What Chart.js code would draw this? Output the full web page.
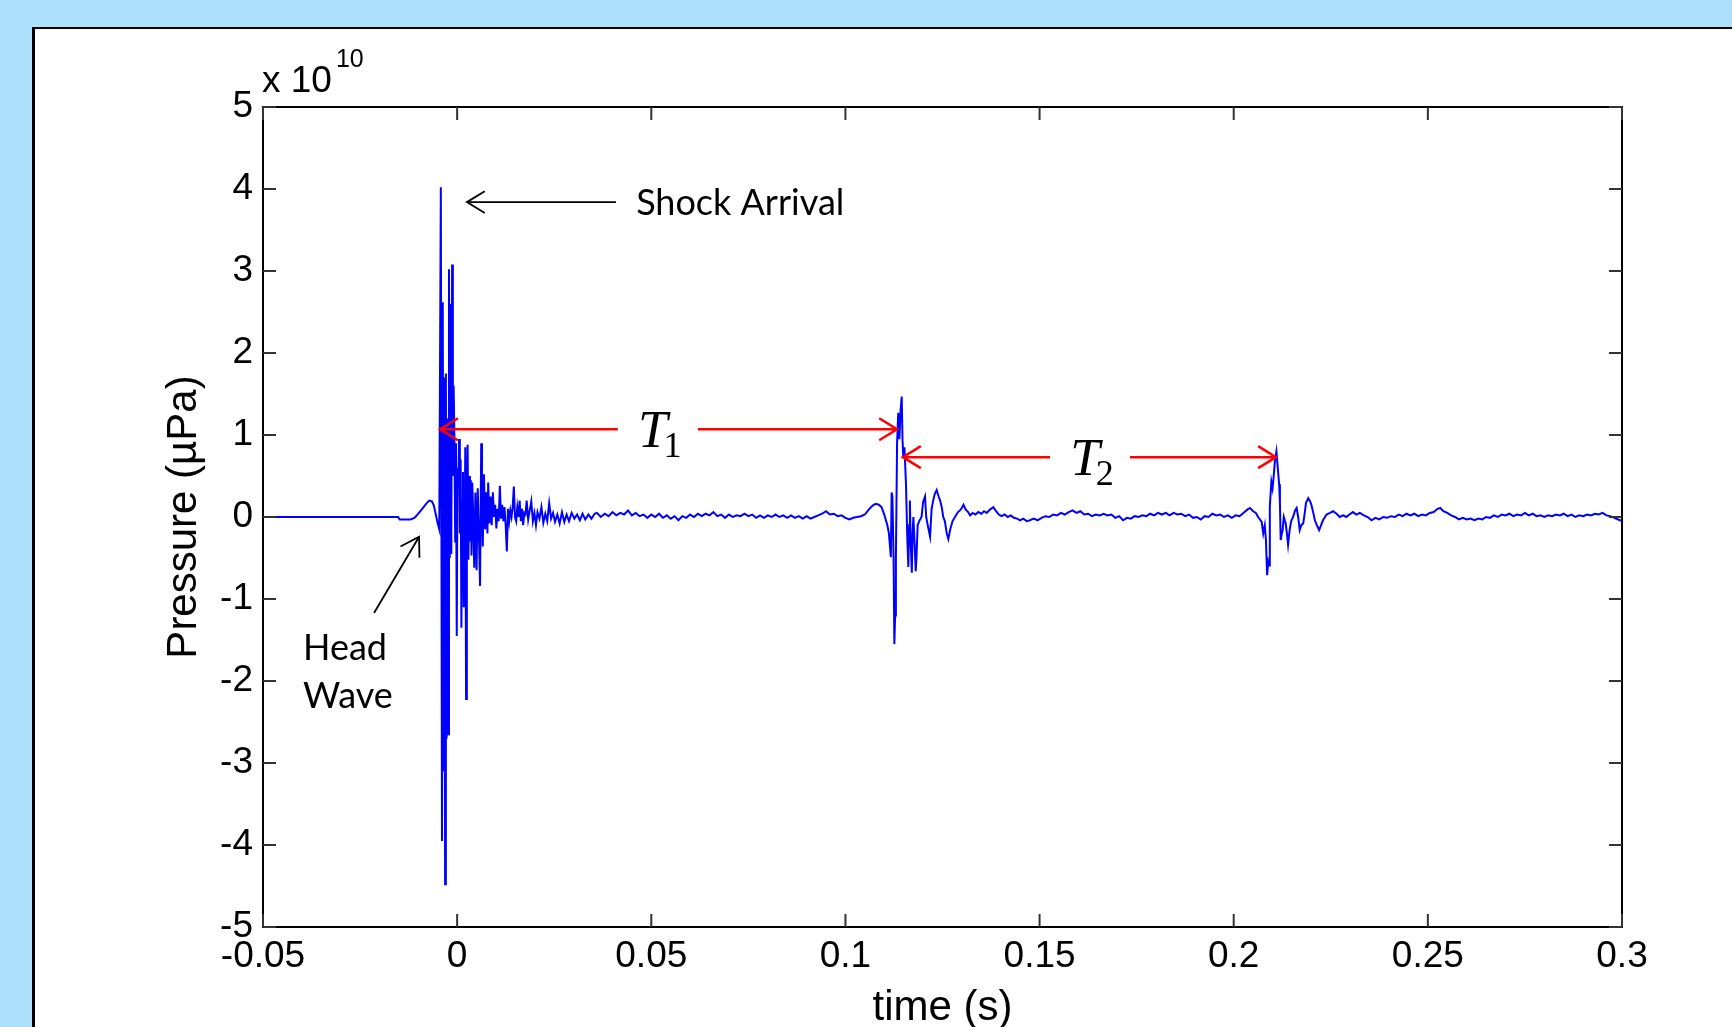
<!DOCTYPE html>
<html>
<head>
<meta charset="utf-8">
<title>Pressure trace</title>
<script src="https://cdn.jsdelivr.net/npm/chart.js@4.4.0/dist/chart.umd.min.js"></script>
<style>
  html, body { margin: 0; padding: 0; background: #ade0fb; overflow: hidden; }
  #panel { position: absolute; left: 32px; top: 27px; width: 1800px; height: 1100px;
           background: #fff; border-left: 3px solid #000; border-top: 2px solid #000; }
  #wrap { position: absolute; left: 0; top: 0; width: 1732px; height: 1027px; }
</style>
</head>
<body>
<div id="panel"></div>
<div id="wrap"><canvas id="trace" width="1732" height="1027"></canvas></div>
<script>
// axis ticks
const xTicks = [-0.05, 0, 0.05, 0.1, 0.15, 0.2, 0.25, 0.3];
const xTickLabels = ['-0.05', '0', '0.05', '0.1', '0.15', '0.2', '0.25', '0.3'];
const yTicks = [-5, -4, -3, -2, -1, 0, 1, 2, 3, 4, 5];
const yTickLabels = ['-5', '-4', '-3', '-2', '-1', '0', '1', '2', '3', '4', '5'];

// pressure trace, [time (s), pressure (x 1e10 µPa)]
const headWave = [
  [-0.05, 0], [-0.0152, 0], [-0.0148, -0.03], [-0.0120, -0.03], [-0.0110, -0.01],
  [-0.0100, 0.04], [-0.0090, 0.10], [-0.0080, 0.16], [-0.0072, 0.20], [-0.0065, 0.19],
  [-0.0060, 0.14], [-0.0055, 0.03], [-0.0050, -0.08], [-0.0046, -0.15]
];

const shockBurst = [
  [-0.0042, 4.02], [-0.0039, -3.95], [-0.0037, 2.62], [-0.0035, -3.1], [-0.0033, 1.7],
  [-0.0031, -4.48], [-0.0029, 1.75], [-0.0027, -2.7], [-0.0025, 1.2], [-0.0023, -2.65],
  [-0.0021, 3.02], [-0.0019, -0.5], [-0.0017, 2.6], [-0.0015, -0.45], [-0.0013, 3.08],
  [-0.0011, 0.5], [-0.0009, 1.6], [-0.0007, 0.95], [-0.0005, -0.3], [-0.0003, 0.9],
  [-0.0001, -1.45], [0.0001, 0.6], [0.0003, 0.35], [0.0005, 0.95], [0.0007, -0.2],
  [0.0009, 0.7], [0.0011, -1.35], [0.0013, 0.2], [0.0015, 0.55], [0.0017, -1.1],
  [0.0019, -0.4], [0.0021, 0.85], [0.0023, -2.22], [0.0025, 0.3], [0.0027, 0.88],
  [0.0029, -0.52], [0.0031, 0.5], [0.0033, -0.3], [0.0035, 0.45], [0.0037, -0.47],
  [0.0039, 0.42], [0.0041, 0.1], [0.0044, -0.62], [0.0047, 0.3], [0.0050, -0.65],
  [0.0053, 0.35], [0.0056, -0.2], [0.0059, -0.84], [0.0062, 0.9], [0.0064, 0.1],
  [0.0066, -0.36], [0.0069, 0.52], [0.0072, -0.15], [0.0075, 0.3], [0.0078, -0.2],
  [0.0080, 0.42], [0.0083, -0.08], [0.0086, 0.25], [0.0089, -0.1], [0.0092, 0.3],
  [0.0095, 0.0], [0.0098, 0.15], [0.0101, -0.14], [0.0104, 0.1], [0.0107, -0.05],
  [0.0110, 0.38], [0.0113, -0.02], [0.0116, 0.15], [0.0119, -0.05], [0.0122, 0.12],
  [0.0125, -0.1], [0.0128, -0.42], [0.0131, 0.1], [0.0134, -0.05], [0.0137, 0.08],
  [0.0140, 0.0], [0.0143, 0.12], [0.0146, 0.37], [0.0149, 0.0], [0.0152, -0.05],
  [0.0155, 0.12], [0.0158, 0.0], [0.0161, 0.2], [0.0164, -0.05], [0.0167, 0.1],
  [0.0170, -0.1], [0.0173, 0.05], [0.0176, 0.03], [0.0179, 0.2], [0.0183, -0.03],
  [0.0187, 0.08], [0.0191, 0.19], [0.0195, -0.05], [0.0199, 0.05], [0.0203, -0.1],
  [0.0207, 0.06], [0.0212, -0.02], [0.0217, 0.12], [0.0222, -0.07], [0.0227, 0.04],
  [0.0232, -0.05], [0.0237, 0.17], [0.0242, -0.02], [0.0247, 0.05], [0.0252, -0.06],
  [0.0258, 0.03], [0.0264, -0.08], [0.0270, 0.06], [0.0276, -0.06], [0.0282, 0.03],
  [0.0288, -0.05], [0.0295, 0.05], [0.0302, -0.02], [0.0309, 0.03], [0.0316, -0.04],
  [0.0323, 0.04], [0.0330, -0.03], [0.0338, 0.03], [0.0346, -0.02], [0.0354, 0.04]
];

const quiet1 = [
  [0.036, 0.05], [0.037, 0.00], [0.038, 0.04], [0.039, 0.01], [0.040, 0.06],
  [0.041, 0.02], [0.042, 0.05], [0.043, 0.03], [0.044, 0.08], [0.045, 0.02],
  [0.046, 0.05], [0.047, 0.01], [0.048, 0.03], [0.049, -0.01], [0.050, 0.03],
  [0.051, 0.00], [0.052, 0.04], [0.053, -0.01], [0.054, 0.02], [0.055, -0.02],
  [0.056, 0.01], [0.057, -0.04], [0.058, 0.01], [0.059, -0.01], [0.060, 0.03],
  [0.061, 0.00], [0.062, 0.04], [0.063, 0.01], [0.064, 0.04], [0.065, 0.02],
  [0.066, 0.06], [0.067, 0.01], [0.068, 0.03], [0.069, -0.01], [0.070, 0.03],
  [0.071, 0.00], [0.072, 0.02], [0.073, 0.01], [0.074, 0.04], [0.075, 0.01],
  [0.076, 0.03], [0.077, -0.01], [0.078, 0.02], [0.079, -0.01], [0.080, 0.02],
  [0.081, 0.00], [0.082, 0.03], [0.083, 0.00], [0.084, 0.02], [0.085, -0.01],
  [0.086, 0.02], [0.087, -0.01], [0.088, 0.01], [0.089, -0.02], [0.090, 0.01],
  [0.091, -0.02], [0.092, 0.00], [0.093, 0.02], [0.094, 0.04], [0.095, 0.07],
  [0.096, 0.03], [0.097, 0.04], [0.098, 0.01], [0.099, 0.02], [0.100, -0.01],
  [0.101, -0.03], [0.102, -0.01], [0.103, 0.00], [0.104, 0.01], [0.105, 0.03],
  [0.106, 0.09], [0.107, 0.14], [0.1078, 0.16], [0.1086, 0.15], [0.1093, 0.12],
  [0.1100, 0.03]
];

const firstReflection = [
  [0.1108, -0.10], [0.1112, -0.20], [0.1117, -0.49], [0.1119, 0.30], [0.1121, 0.25],
  [0.1124, -0.5], [0.1126, -1.55], [0.1128, -1.2], [0.1130, -0.5], [0.1133, 0.9],
  [0.1136, 1.27], [0.1139, 0.95], [0.1142, 1.3], [0.1145, 1.47], [0.1147, 0.95],
  [0.1149, 0.73], [0.1152, 0.85], [0.1156, 0.4], [0.1159, -0.2], [0.1162, -0.61],
  [0.1164, -0.1], [0.1166, 0.2], [0.1168, -0.3], [0.1171, -0.68], [0.1173, -0.2],
  [0.1175, 0.0], [0.1178, -0.3], [0.1181, -0.66], [0.1183, -0.5], [0.1186, -0.1],
  [0.1190, -0.05], [0.1196, 0.0], [0.1200, 0.18], [0.1205, 0.25], [0.1208, 0.0],
  [0.1212, -0.1], [0.1218, -0.24], [0.1222, 0.1], [0.1226, 0.2], [0.1230, 0.28],
  [0.1235, 0.33], [0.1240, 0.25], [0.1244, 0.2], [0.1248, 0.12], [0.1252, 0.0],
  [0.1256, -0.05], [0.1261, -0.2], [0.1265, -0.27], [0.1270, -0.15], [0.1276, -0.05],
  [0.1282, 0.0], [0.1290, 0.06], [0.1297, 0.09], [0.1304, 0.15], [0.1310, 0.09],
  [0.1316, 0.06], [0.1321, 0.02], [0.1328, 0.05], [0.1335, 0.03], [0.1342, 0.06],
  [0.1350, 0.04], [0.1357, 0.07], [0.1364, 0.05], [0.1372, 0.09], [0.1381, 0.12],
  [0.1388, 0.07], [0.1395, 0.03], [0.1402, 0.01], [0.1410, 0.03], [0.1418, 0.0],
  [0.1426, 0.02], [0.1434, -0.01], [0.1442, -0.02], [0.1450, -0.04], [0.1458, -0.02],
  [0.1467, -0.05]
];

const quiet2 = [
  [0.1475, -0.04], [0.1485, -0.02], [0.1495, -0.04], [0.1505, -0.01], [0.1515, 0.01],
  [0.1525, 0.00], [0.1535, 0.03], [0.1545, 0.02], [0.1555, 0.05], [0.1565, 0.03],
  [0.1575, 0.06], [0.1585, 0.08], [0.1595, 0.05], [0.1605, 0.07], [0.1615, 0.03],
  [0.1625, 0.04], [0.1635, 0.01], [0.1645, 0.03], [0.1655, 0.02], [0.1665, 0.04],
  [0.1675, 0.02], [0.1685, 0.03], [0.1695, -0.01], [0.1705, 0.01], [0.1715, -0.04],
  [0.1725, -0.01], [0.1735, -0.02], [0.1745, 0.01], [0.1755, 0.00], [0.1765, 0.02],
  [0.1775, 0.01], [0.1785, 0.04], [0.1795, 0.02], [0.1805, 0.05], [0.1815, 0.03],
  [0.1825, 0.05], [0.1835, 0.02], [0.1845, 0.05], [0.1855, 0.03], [0.1865, 0.04],
  [0.1875, 0.01], [0.1885, 0.03], [0.1895, -0.01], [0.1905, 0.00], [0.1915, -0.03],
  [0.1925, 0.01], [0.1935, 0.00], [0.1945, 0.04], [0.1955, 0.02], [0.1965, 0.03],
  [0.1975, 0.00], [0.1985, 0.02], [0.1995, -0.01], [0.2005, 0.02], [0.2015, 0.01],
  [0.2025, 0.05], [0.2035, 0.09], [0.2042, 0.11], [0.2050, 0.07], [0.2057, 0.05]
];

const secondReflection = [
  [0.2063, 0.0], [0.2072, -0.06], [0.2076, -0.2], [0.2080, -0.1], [0.2083, -0.28],
  [0.2086, -0.71], [0.2089, -0.55], [0.2091, -0.59], [0.2093, 0.13], [0.2097, 0.43],
  [0.2100, 0.35], [0.2103, 0.5], [0.2106, 0.68], [0.2110, 0.80], [0.2114, 0.57],
  [0.2117, 0.4], [0.2119, 0.17], [0.2121, -0.28], [0.2124, -0.2], [0.2126, -0.16],
  [0.2129, 0.0], [0.2132, -0.05], [0.2134, -0.08], [0.2137, -0.2], [0.2140, -0.34],
  [0.2144, -0.16], [0.2148, -0.05], [0.2153, 0.0], [0.2158, 0.08], [0.2162, 0.11],
  [0.2166, 0.0], [0.2170, -0.16], [0.2174, -0.1], [0.2179, -0.08], [0.2183, 0.05],
  [0.2186, 0.17], [0.2192, 0.23], [0.2196, 0.2], [0.2200, 0.15], [0.2205, 0.05],
  [0.2209, -0.04], [0.2214, -0.1], [0.2220, -0.16], [0.2225, -0.1], [0.2230, -0.04],
  [0.2239, 0.03], [0.2248, 0.05], [0.2256, 0.07], [0.2265, 0.04], [0.2273, 0.0],
  [0.2282, 0.02], [0.2290, 0.0]
];

const quiet3 = [
  [0.2298, 0.03], [0.2307, 0.06], [0.2316, 0.03], [0.2325, 0.05], [0.2335, 0.02],
  [0.2345, 0.00], [0.2355, -0.04], [0.2365, -0.01], [0.2375, -0.03], [0.2385, 0.00],
  [0.2395, -0.01], [0.2405, 0.01], [0.2415, 0.00], [0.2425, 0.03], [0.2435, 0.01],
  [0.2445, 0.04], [0.2455, 0.02], [0.2465, 0.04], [0.2475, 0.01], [0.2485, 0.03],
  [0.2495, 0.02], [0.2505, 0.05], [0.2515, 0.06], [0.2525, 0.10], [0.2532, 0.11],
  [0.2540, 0.07], [0.2550, 0.05], [0.2560, 0.02], [0.2570, 0.00], [0.2580, -0.03],
  [0.2590, -0.01], [0.2600, -0.03], [0.2610, -0.02], [0.2620, -0.04], [0.2630, -0.02],
  [0.2640, -0.03], [0.2650, 0.00], [0.2660, -0.01], [0.2670, 0.02], [0.2680, 0.00],
  [0.2690, 0.03], [0.2700, 0.02], [0.2710, 0.04], [0.2720, 0.01], [0.2730, 0.03],
  [0.2740, 0.02], [0.2750, 0.05], [0.2760, 0.02], [0.2770, 0.04], [0.2780, 0.01],
  [0.2790, 0.02], [0.2800, 0.00], [0.2810, 0.02], [0.2820, 0.01], [0.2830, 0.03],
  [0.2840, 0.02], [0.2850, 0.04], [0.2860, 0.01], [0.2870, 0.03], [0.2880, 0.00],
  [0.2890, 0.02], [0.2900, 0.01], [0.2910, 0.03], [0.2920, 0.02], [0.2930, 0.04],
  [0.2940, 0.03], [0.2950, 0.05], [0.2960, 0.02], [0.2970, 0.01], [0.2980, -0.01],
  [0.2990, -0.03], [0.3000, -0.05]
];

const trace = [...headWave, ...shockBurst, ...quiet1, ...firstReflection,
               ...quiet2, ...secondReflection, ...quiet3];

const SANS = '"Liberation Sans", Arial, sans-serif';
const NOTE = 'Lato, "Open Sans", sans-serif';
const SERIF = '"Liberation Serif", "Times New Roman", serif';

function arrow(ctx, x1, y1, x2, y2, color, width) {
  const ang = Math.atan2(y2 - y1, x2 - x1);
  const len = 21, spread = 0.55;
  ctx.strokeStyle = color;
  ctx.lineWidth = width;
  ctx.beginPath();
  ctx.moveTo(x1, y1);
  ctx.lineTo(x2, y2);
  ctx.moveTo(x2 - len * Math.cos(ang - spread), y2 - len * Math.sin(ang - spread));
  ctx.lineTo(x2, y2);
  ctx.lineTo(x2 - len * Math.cos(ang + spread), y2 - len * Math.sin(ang + spread));
  ctx.stroke();
}

// red double arrow with a T_n label in a gap at its middle
function period(ctx, x, y, t0, t1, tMid, sub) {
  const yy = y.getPixelForValue(t0[1]);
  const xa = x.getPixelForValue(t0[0]);
  const xb = x.getPixelForValue(t1);
  const xm = x.getPixelForValue(tMid);
  arrow(ctx, xm - 42, yy, xa, yy, '#ff0000', 2.5);
  arrow(ctx, xm + 38, yy, xb, yy, '#ff0000', 2.5);
  ctx.fillStyle = '#000';
  ctx.textAlign = 'left';
  ctx.textBaseline = 'alphabetic';
  ctx.font = 'italic 53px ' + SERIF;
  const wT = ctx.measureText('T').width;
  ctx.font = '36px ' + SERIF;
  const wS = ctx.measureText(sub).width;
  const left = xm - (wT + wS - 4) / 2;
  ctx.font = 'italic 53px ' + SERIF;
  ctx.fillText('T', left, yy + 18);
  ctx.font = '36px ' + SERIF;
  ctx.fillText(sub, left + wT - 4, yy + 28);
}

const annotate = {
  id: 'annotate',
  afterDraw(chart) {
    const {ctx, chartArea: a, scales: {x, y}} = chart;
    ctx.save();

    // box and inward ticks on all four sides
    ctx.strokeStyle = '#000';
    ctx.lineWidth = 2;
    ctx.strokeRect(a.left, a.top, a.right - a.left, a.bottom - a.top);
    ctx.strokeStyle = '#333';
    ctx.beginPath();
    xTicks.forEach(v => {
      const px = x.getPixelForValue(v);
      ctx.moveTo(px, a.bottom); ctx.lineTo(px, a.bottom - 13);
      ctx.moveTo(px, a.top); ctx.lineTo(px, a.top + 13);
    });
    yTicks.forEach(v => {
      const py = y.getPixelForValue(v);
      ctx.moveTo(a.left, py); ctx.lineTo(a.left + 13, py);
      ctx.moveTo(a.right, py); ctx.lineTo(a.right - 13, py);
    });
    ctx.stroke();

    // exponent
    ctx.fillStyle = '#000';
    ctx.textAlign = 'left';
    ctx.textBaseline = 'alphabetic';
    ctx.font = '37px ' + SANS;
    ctx.fillText('x 10', a.left - 1, a.top - 15);
    const w = ctx.measureText('x 10').width;
    ctx.font = '25px ' + SANS;
    ctx.fillText('10', a.left + w + 3, a.top - 40);

    // shock arrival
    const sy = y.getPixelForValue(3.84);
    arrow(ctx, x.getPixelForValue(0.0409), sy, x.getPixelForValue(0.0025), sy, '#000', 1.8);
    ctx.font = '36px ' + NOTE;
    ctx.textBaseline = 'alphabetic';
    ctx.fillText('Shock Arrival', x.getPixelForValue(0.0461), sy + 13);

    // head wave
    arrow(ctx, x.getPixelForValue(-0.0214), y.getPixelForValue(-1.17),
          x.getPixelForValue(-0.0098), y.getPixelForValue(-0.24), '#000', 1.8);
    const hx = x.getPixelForValue(-0.0397);
    const hy = y.getPixelForValue(-1.74);
    ctx.fillText('Head', hx, hy);
    ctx.fillText('Wave', hx, hy + 48);

    // periods
    period(ctx, x, y, [-0.0044, 1.07], 0.1133, 0.0522, '1');
    period(ctx, x, y, [0.1148, 0.73], 0.2109, 0.1635, '2');

    ctx.restore();
  }
};

Chart.defaults.font.family = SANS;
Chart.defaults.color = '#000';

new Chart(document.getElementById('trace'), {
  type: 'line',
  data: {
    datasets: [{
      data: trace.map(p => ({x: p[0], y: p[1]})),
      borderColor: '#0000ff',
      borderWidth: 2,
      pointRadius: 0,
      tension: 0,
      fill: false
    }]
  },
  options: {
    responsive: false,
    animation: false,
    layout: { padding: { left: 0, top: 107, right: 110, bottom: 0 } },
    plugins: { legend: { display: false }, tooltip: { enabled: false } },
    scales: {
      x: {
        type: 'linear',
        min: -0.05,
        max: 0.3,
        afterBuildTicks: s => { s.ticks = xTicks.map(v => ({value: v})); },
        afterFit: s => { s.height = 100; },
        grid: { display: false, drawTicks: false },
        border: { display: false },
        ticks: { font: { size: 37 }, padding: 8, maxRotation: 0, autoSkip: false,
                 callback: (v, i) => xTickLabels[i] },
        title: { display: true, text: 'time (s)', font: { size: 42, lineHeight: 0.9 },
                 padding: { top: 0, bottom: 0 } }
      },
      y: {
        min: -5,
        max: 5,
        afterBuildTicks: s => { s.ticks = yTicks.map(v => ({value: v})); },
        afterFit: s => { s.width = 263; },
        grid: { display: false, drawTicks: false },
        border: { display: false },
        ticks: { font: { size: 37 }, padding: 10, autoSkip: false,
                 callback: (v, i) => yTickLabels[i] },
        title: { display: true, text: 'Pressure (µPa)', font: { size: 42 }, padding: { top: 159, bottom: 0 } }
      }
    }
  },
  plugins: [annotate]
});
</script>
</body>
</html>
